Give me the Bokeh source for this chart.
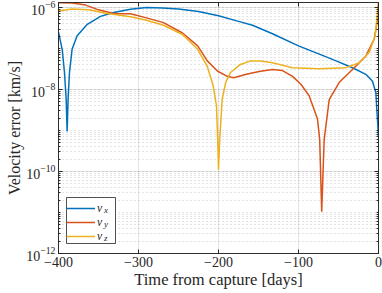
import numpy as np
from bokeh.plotting import figure
from bokeh.models import (Range1d, LogAxis, LinearAxis, FixedTicker, Legend, LegendItem, Label,
                          BoxAnnotation)
from bokeh.embed import file_html
from bokeh.resources import INLINE
from bokeh.core.properties import value

# ---- data ----
t_vx = [-400, -395.4, -392.5, -390.4, -389.2, -388.0, -386.3, -383.0, -376.7, -364, -347.5, -331,
        -310, -290, -270, -250, -225, -200, -175, -157.5, -132.5, -100, -74, -53, -32.5, -15.8,
        -7.5, -3.3, -2.1, -1.0, 0]
vx = [2.5e-7, 9.6e-8, 2.6e-8, 5.7e-9, 9.5e-10, 5.7e-9, 2.6e-8, 9.6e-8, 2.05e-7, 3.9e-7, 6.1e-7, 7.6e-7,
      9.1e-7, 1.0e-6, 9.8e-7, 9.2e-7, 8.0e-7, 6.3e-7, 4.6e-7, 3.7e-7, 2.3e-7, 1.16e-7, 7.3e-8, 5.0e-8,
      3.4e-8, 2.35e-8, 1.6e-8, 8.3e-9, 3.3e-9, 1.5e-9, 7e-10]

t_vy = [-400, -383, -366, -350, -330, -310, -290, -268.75, -245, -226, -214, -201, -189, -181, -164,
        -147.5, -132.5, -120, -107.5, -97, -86.6, -76.25, -73.5, -71, -67.9, -61.6, -49, -32.5,
        -15.8, -5.4, -1.25, 0]
vy = [1.32e-6, 1.29e-6, 1.15e-6, 8.8e-7, 7.1e-7, 7.1e-7, 5.6e-7, 4.3e-7, 2.4e-7, 1.16e-7, 5e-8, 2.8e-8,
      2.1e-8, 1.95e-8, 2.4e-8, 2.8e-8, 3.1e-8, 2.9e-8, 2.1e-8, 1.35e-8, 7e-9, 1.9e-9, 6e-10, 1.05e-11,
      6e-10, 5.7e-9, 1.5e-8, 3.1e-8, 6.6e-8, 1.7e-7, 5e-7, 1.32e-6]

t_vz = [-400, -383, -362, -341, -310, -290, -268.75, -245, -226, -214, -206.5, -202.5, -201, -200,
        -198.5, -195.4, -191, -185, -172.5, -160, -147.5, -132.5, -107.5, -74, -41, -24, -11.7,
        -4.2, -1.25, 0]
vz = [8.3e-7, 9.2e-7, 8.8e-7, 7.3e-7, 6.0e-7, 4.9e-7, 3.7e-7, 2.2e-7, 9.6e-8, 3.7e-8, 1.2e-8, 4e-9,
      6e-10, 1.1e-10, 6e-10, 5.8e-9, 1.5e-8, 2.6e-8, 4.1e-8, 5e-8, 5e-8, 4.5e-8, 3.4e-8, 3.2e-8,
      3.4e-8, 4.5e-8, 8e-8, 2.04e-7, 7.6e-7, 1.25e-6]

series_names = ["x", "y", "z"]
colors = ["#0072BD", "#D95319", "#EDB120"]

x_lim = (-400, 0)
y_lim = (1e-12, 1.33e-6)
x_ticks = [-400, -300, -200, -100, 0]
y_ticks = [1e-12, 1e-10, 1e-8, 1e-6]
y_minor = [m * 10.0 ** e for e in range(-12, -5) for m in range(1, 10)]

FONT = "Liberation Serif"
AX = "#262626"

p = figure(width=382, height=293, y_axis_type="log", output_backend="svg",
           toolbar_location=None, x_range=Range1d(*x_lim), y_range=Range1d(*y_lim),
           min_border_left=58, min_border_right=4, min_border_top=2, min_border_bottom=40)
p.background_fill_color = "white"
p.border_fill_color = "white"
p.outline_line_color = AX
p.outline_line_alpha = 0.8

renderers = []
for tt, vv, c in zip([t_vx, t_vy, t_vz], [vx, vy, vz], colors):
    renderers.append(p.line(tt, vv, line_color=c, line_width=1.5))

# axes styling
def style_axis(ax):
    ax.axis_line_color = AX
    ax.axis_line_alpha = 0.8
    ax.major_tick_line_color = AX
    ax.minor_tick_line_color = AX
    ax.major_tick_in = 4
    ax.major_tick_out = 0
    ax.minor_tick_in = 2
    ax.minor_tick_out = 0
    ax.major_label_text_font = FONT
    ax.major_label_text_font_size = "14px"
    ax.major_label_text_color = AX
    ax.axis_label_text_font = FONT
    ax.axis_label_text_font_size = "16.5px"
    ax.axis_label_text_font_style = "normal"
    ax.axis_label_text_color = AX

xa = p.xaxis[0]
xa.ticker = FixedTicker(ticks=x_ticks)
style_axis(xa)
xa.axis_label = "Time from capture [days]"
xa.major_label_standoff = 3
xa.axis_label_standoff = 0

ya = p.yaxis[0]
ya.ticker = FixedTicker(ticks=y_ticks, minor_ticks=y_minor)
style_axis(ya)
ya.axis_label = "Velocity error [km/s]"
ya.axis_label_text_font_size = "16px"
ya.major_label_standoff = 3
ya.axis_label_standoff = 0

# ticks on the opposite sides (no labels)
top = LinearAxis(ticker=FixedTicker(ticks=x_ticks))
style_axis(top)
top.major_label_text_color = None
top.major_label_text_font_size = "1px"
top.major_label_standoff = 0
p.add_layout(top, "above")

right = LogAxis(ticker=FixedTicker(ticks=y_ticks, minor_ticks=y_minor))
style_axis(right)
right.major_label_text_color = None
right.major_label_text_font_size = "1px"
right.major_label_standoff = 0
p.add_layout(right, "right")

# grids
p.xgrid.ticker = FixedTicker(ticks=x_ticks)
p.xgrid.grid_line_color = AX
p.xgrid.grid_line_alpha = 0.13
p.ygrid.ticker = FixedTicker(ticks=y_ticks, minor_ticks=y_minor)
p.ygrid.grid_line_color = AX
p.ygrid.grid_line_alpha = 0.13
p.ygrid.minor_grid_line_color = AX
p.ygrid.minor_grid_line_alpha = 0.25
p.ygrid.minor_grid_line_dash = "1 3"

# legend frame (white box), drawn in pixels from the frame's lower-left corner
p.add_layout(BoxAnnotation(left=8, right=57, bottom=10, top=56,
                           left_units="screen", right_units="screen",
                           bottom_units="screen", top_units="screen",
                           fill_color="white", fill_alpha=1.0,
                           line_color=AX, line_alpha=0.8, line_width=1))

# subscripts of the legend labels
for i, s in enumerate(series_names):
    p.add_layout(Label(x=45.5, y=44 - 14 * i, x_units="screen", y_units="screen", text=s,
                       text_font=FONT, text_font_style="italic", text_font_size="9px",
                       text_color=AX, text_baseline="middle"))

# legend (transparent, sits on the white box)
items = [LegendItem(label="v", renderers=[r]) for r in renderers]
leg = Legend(items=items, location=(8, 10))
leg.label_text_font = FONT
leg.label_text_font_style = "italic"
leg.label_text_font_size = "11.5px"
leg.label_text_color = AX
leg.glyph_width = 29
leg.glyph_height = 14
leg.label_height = 14
leg.label_width = 12
leg.label_standoff = 2
leg.padding = 2
leg.spacing = 0
leg.margin = 0
leg.border_line_color = None
leg.background_fill_alpha = 0
p.add_layout(leg, "center")

open("out.html", "w").write(file_html(p, INLINE))
